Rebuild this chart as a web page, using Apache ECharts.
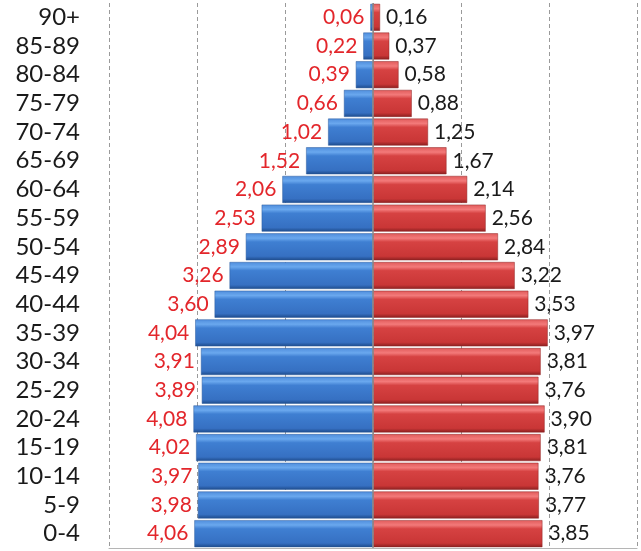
<!DOCTYPE html>
<html>
<head>
<meta charset="utf-8">
<script src="https://cdn.jsdelivr.net/npm/echarts@6/dist/echarts.min.js"></script>
<style>html,body{margin:0;padding:0;background:#fff}#c{width:641px;height:551px}</style>
</head>
<body>
<div id="c"></div>
<script>
const categories = ["0-4","5-9","10-14","15-19","20-24","25-29","30-34","35-39","40-44","45-49","50-54","55-59","60-64","65-69","70-74","75-79","80-84","85-89","90+"];
const leftValues = [4.06,3.98,3.97,4.02,4.08,3.89,3.91,4.04,3.60,3.26,2.89,2.53,2.06,1.52,1.02,0.66,0.39,0.22,0.06];
const rightValues = [3.85,3.77,3.76,3.81,3.90,3.76,3.81,3.97,3.53,3.22,2.84,2.56,2.14,1.67,1.25,0.88,0.58,0.37,0.16];

const fmt = v => Math.abs(v).toFixed(2).replace('.', ',');
const FONT = 'Lato';
const chart = echarts.init(document.getElementById('c'));
const blueGrad = new echarts.graphic.LinearGradient(0,0,0,1,[
  {offset:0,color:'#4f8ddc'},{offset:0.18,color:'#6aa8ee'},{offset:0.32,color:'#3f7fd2'},{offset:0.85,color:'#3670c2'},{offset:1,color:'#1d4a8a'}]);
const redGrad = new echarts.graphic.LinearGradient(0,0,0,1,[
  {offset:0,color:'#e05a5a'},{offset:0.18,color:'#f37a7a'},{offset:0.32,color:'#d64242'},{offset:0.85,color:'#c93636'},{offset:1,color:'#8a1f1f'}]);
chart.setOption({
  animation:false,
  grid:{left:109,right:4,top:3,bottom:3,containLabel:false},
  xAxis:{type:'value',min:-6,max:6,interval:2,
    axisLabel:{show:false},axisTick:{show:false},
    axisLine:{show:true,onZero:false,lineStyle:{color:'#b5b5b5',width:1}},
    splitLine:{show:true,lineStyle:{type:[4,3],color:'#9a9a9a',width:1}}},
  yAxis:{type:'category',data:categories,
    axisLine:{show:false,onZero:false},axisTick:{show:false},
    axisLabel:{interval:0,margin:29,fontFamily:FONT,fontSize:24,color:'#1a1a1a'}},
  series:[
    {type:'bar',data:leftValues.map(v=>-v),barGap:'-100%',barCategoryGap:'6%',
     itemStyle:{color:blueGrad,borderColor:'#2a5a9c',borderWidth:0.5},
     label:{show:true,position:'left',distance:6,formatter:p=>fmt(p.value),fontFamily:FONT,fontSize:21,color:'#e3262b'},
     markLine:{silent:true,symbol:'none',label:{show:false},lineStyle:{type:'solid',color:'#8c8c8c',width:1.5},data:[{xAxis:0}]}},
    {type:'bar',data:rightValues,barGap:'-100%',barCategoryGap:'6%',
     itemStyle:{color:redGrad,borderColor:'#8e2424',borderWidth:0.5},
     label:{show:true,position:'right',distance:6,formatter:p=>fmt(p.value),fontFamily:FONT,fontSize:21,color:'#1a1a1a'}}
  ]
});
</script>
</body>
</html>
